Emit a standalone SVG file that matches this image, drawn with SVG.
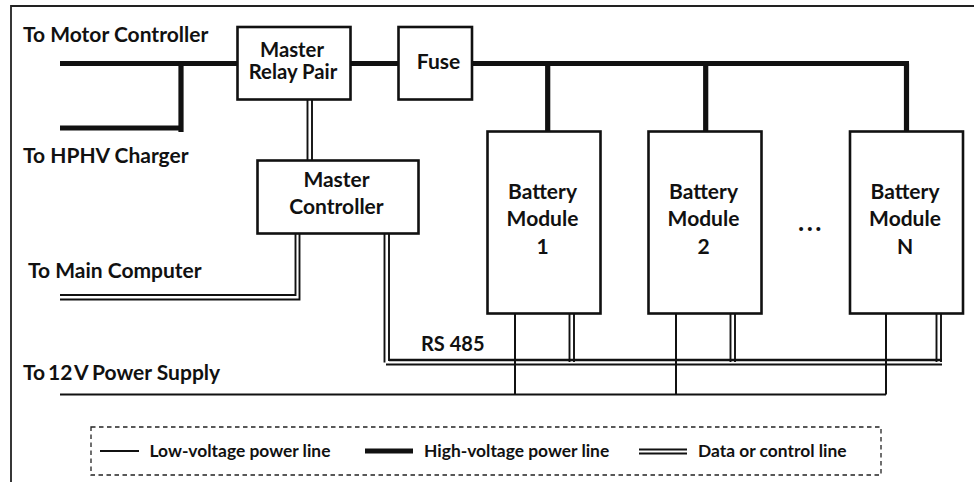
<svg xmlns="http://www.w3.org/2000/svg" width="974" height="482" viewBox="0 0 974 482">
<style>
text{font-family:"Lato","Carlito","Open Sans",sans-serif;font-weight:700;fill:#111;font-size:21px}
.m{text-anchor:middle}
.box{fill:#fff;stroke:#111;stroke-width:2.6}
.lv,.hv,.d{fill:none;stroke:#111}
.lv{stroke-width:2}
.hv{stroke-width:5.2}
.d{stroke-width:1.9}
.lg{font-size:17.4px}
.rp{font-size:20.3px}
</style>
<rect width="974" height="482" fill="#fff"/>
<path d="M11 482V6H974" fill="none" stroke="#222" stroke-width="1.8"/>
<g id="connectors">
<path class="hv" d="M60 63.500H237M181 63.500V132M60 128H183M350 63.500H398M472 63.500H909M547.700 63.500V131M705.700 63.500V131M906.500 63.500V131"/>
<path class="lv" d="M60 394.500H886M515 313V394.500M676 313V394.500M886 313V394.500"/>
<path class="d" d="M307.500 96V160M312 96V160"/>
<path class="d" d="M60 295H295.500V233M60 299.500H299.500V233"/>
<path class="d" d="M389 233V360H942M384.500 233V362.500M386 364.500H942"/>
<path class="d" style="stroke-width:2.3" d="M389 360H942"/>
<path class="d" d="M569.500 313V362M574 313V362M730.500 313V362M735 313V362M936.500 313V362M941 313V362"/>
</g>
<g id="master-relay-pair"><rect class="box" x="237.500" y="27" width="113" height="72.500"/><text class="m rp" x="292" y="57">Master</text><text class="m rp" x="293" y="78.500">Relay Pair</text></g>
<g id="fuse"><rect class="box" x="398.500" y="27" width="73.500" height="72.500"/><text class="m" x="438.500" y="68.500">Fuse</text></g>
<g id="master-controller"><rect class="box" x="257.500" y="160.500" width="161" height="73"/><text class="m" x="336.500" y="186.500">Master</text><text class="m" x="336.500" y="214">Controller</text></g>
<g id="battery-module-1"><rect class="box" x="487.500" y="131.500" width="113" height="182"/><text class="m" x="542.500" y="198.500">Battery</text><text class="m" x="542.500" y="226">Module</text><text class="m" x="542.500" y="253.500">1</text></g>
<g id="battery-module-2"><rect class="box" x="648.500" y="131.500" width="113" height="182"/><text class="m" x="703.500" y="198.500">Battery</text><text class="m" x="703.500" y="226">Module</text><text class="m" x="703.500" y="253.500">2</text></g>
<g id="battery-module-n"><rect class="box" x="850" y="131.500" width="113" height="182"/><text class="m" x="905" y="198.500">Battery</text><text class="m" x="905" y="226">Module</text><text class="m" x="905" y="253.500">N</text></g>
<g id="labels">
<text x="23" y="41.500">To Motor Controller</text>
<text x="23" y="162.500">To HPHV Charger</text>
<text x="28" y="278">To Main Computer</text>
<text x="421" y="350.700" style="font-size:20px">RS 485</text>
<text y="380"><tspan x="23">To</tspan><tspan x="48">12</tspan><tspan x="74">V</tspan><tspan x="92">Power Supply</tspan></text>
<text x="798" y="231" style="font-size:26px;letter-spacing:2.5px">...</text>
</g>
<g id="legend">
<rect x="91" y="427" width="790" height="48" fill="none" stroke="#222" stroke-width="1.3" stroke-dasharray="4.500 3.500"/>
<path class="lv" d="M100 451H139"/><text class="lg" x="149.500" y="457.300">Low-voltage power line</text>
<path class="hv" d="M365 451H413"/><text class="lg" x="424" y="457.300">High-voltage power line</text>
<path class="d" d="M639 449.500H687M639 453.500H687"/><text class="lg" x="698" y="457.300">Data or control line</text>
</g>
</svg>
